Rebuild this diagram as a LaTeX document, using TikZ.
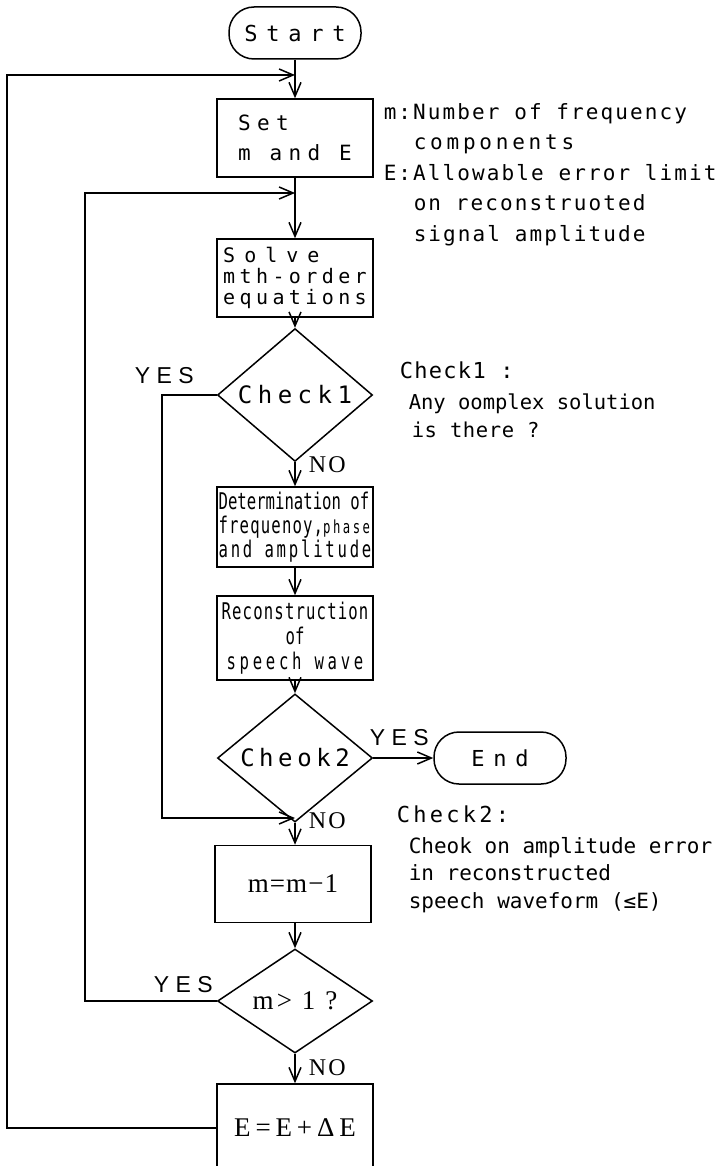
\documentclass[tikz,border=0pt]{standalone}
\usepackage{fontspec}
\setmainfont{Liberation Serif}
\setsansfont{Liberation Sans}
\newfontfamily\jm{DejaVu Sans Mono}
\newfontfamily\jn[FakeStretch=0.68]{DejaVu Sans Mono}
\usetikzlibrary{arrows.meta,shapes.geometric}
\newcommand\fsz[2]{\fontsize{#1}{#2}\selectfont}
\newcommand\lsp[1]{\addfontfeatures{LetterSpace=#1}}
\begin{document}
\begin{tikzpicture}[x=1pt,y=-1pt,
  line width=1.5pt,
  arr/.style={-{Straight Barb[length=14pt,width=12pt]}},
  box/.style={draw, rectangle, minimum width=156pt, inner sep=0pt},
  dia/.style={draw, diamond, minimum width=155pt, minimum height=104pt, inner sep=0pt},
  term/.style={draw, rectangle, rounded corners=25pt, minimum width=132pt, minimum height=52pt, inner sep=0pt},
  ann/.style={anchor=base west, inner sep=0pt},
  yes/.style={anchor=base west, inner sep=0pt, font=\sffamily\fsz{23}{23}\lsp{28}},
  no/.style={anchor=base west, inner sep=0pt, font=\rmfamily\fsz{24}{24}\lsp{10}},
]
\useasboundingbox (0,0) rectangle (719,1166);
\clip (0,0) rectangle (719,1166);

% main nodes
\node[term, font=\jm\fsz{22}{26}\lsp{40}] (start) at (295,33) {Start};
\node[box, minimum height=78pt, align=left, font=\jm\fsz{21}{30}\lsp{30}] (set) at (295,138) {Set\\m and E};
\node[box, minimum height=78pt, align=left, font=\jm\fsz{20}{21}] (solve) at (295,278) {{\lsp{45}Solve}\\{\lsp{22}mth-order}\\{\lsp{22}equations}};
\node[dia, font=\jm\fsz{24}{24}\lsp{23}] (c1) at (295,395) {Check1};
\node[box, minimum height=80pt, align=left, font=\jn\fsz{23}{24}] (det) at (295,527) {Determination of\\{\lsp{5}frequenoy,}{\fsz{18}{24}\lsp{14}phase}\\{\lsp{12}and amplitude}};
\node[box, minimum height=84pt, align=center, font=\jn\fsz{23}{25}] (rec) at (295,638) {{\lsp{5}Reconstruction}\\of\\{\lsp{16}speech wave}};
\node[dia, font=\jm\fsz{24}{24}\lsp{19}] (c2) at (295,758) {Cheok2};
\node[term, font=\jm\fsz{22}{26}\lsp{40}] (end) at (500,758) {End};
\node[box, minimum height=77pt, font=\rmfamily\fsz{27}{27}\lsp{4}] (mm) at (293,884) {m=m−1};
\node[dia, font=\rmfamily\fsz{27}{27}\lsp{12}] (mg) at (295,1001) {m> 1 ?};
\node[box, minimum height=88pt, font=\rmfamily\fsz{27}{27}\lsp{18}] (eb) at (295,1128) {E=E+ΔE};

% straight connectors
\draw[arr] (start) -- (set);
\draw[arr] (set) -- (solve);
\draw[arr] (solve) -- (c1);
\draw[arr] (c1) -- (det);
\draw[arr] (det) -- (rec);
\draw[arr] (rec) -- (c2);
\draw[arr] (c2) -- (end);
\draw[arr] (c2) -- (mm.north -| c2);
\draw[arr] (mm.south -| mg) -- (mg);
\draw[arr] (mg) -- (eb);

% loops
\coordinate (j1) at (295,818); \coordinate (k1) at (162,818);
\draw[arr] (c1.west) -| (k1) -- (j1);
\coordinate (j2) at (295,193); \coordinate (k2) at (85,193);
\draw[arr] (mg.west) -| (k2) -- (j2);
\coordinate (j3) at (295,75); \coordinate (k3) at (7,75);
\draw[arr] (eb.west) -| (k3) -- (j3);

% YES / NO labels
\node[yes] (y1) at (134,383) {YES};
\node[yes] (y2) at (369,745) {YES};
\node[yes] (y3) at (153,992) {YES};
\node[no] (n1) at (308,472) {NO};
\node[no] (n2) at (308,828) {NO};
\node[no] (n3) at (308,1075) {NO};

% annotations
\node[ann, font=\jm\fsz{21}{30}\lsp{10}] (a1) at (383,120) {m:Number of frequency};
\node[ann, font=\jm\fsz{21}{30}\lsp{18}] (a2) at (413,150) {components};
\node[ann, font=\jm\fsz{21}{30}\lsp{10}] (a3) at (383,181) {E:Allowable error limit};
\node[ann, font=\jm\fsz{21}{30}\lsp{10}] (a4) at (413,211) {on reconstruoted};
\node[ann, font=\jm\fsz{21}{30}\lsp{10}] (a5) at (413,241) {signal amplitude};

\node[ann, font=\jm\fsz{22}{28}\lsp{6}] (b1) at (399,378) {Check1 :};
\node[ann, font=\jm\fsz{20.5}{28}] (b2) at (408,409) {Any oomplex solution};
\node[ann, font=\jm\fsz{20.5}{28}\lsp{3}] (b3) at (411,437) {is there ?};

\node[ann, font=\jm\fsz{22}{28}\lsp{15}] (d1) at (396,822) {Check2:};
\node[ann, font=\jm\fsz{21}{28}] (d2) at (408,853) {Cheok on amplitude error};
\node[ann, font=\jm\fsz{21}{28}] (d3) at (408,880) {in reconstructed};
\node[ann, font=\jm\fsz{21}{28}] (d4) at (408,908) {speech waveform (≤E)};
\end{tikzpicture}
\end{document}
